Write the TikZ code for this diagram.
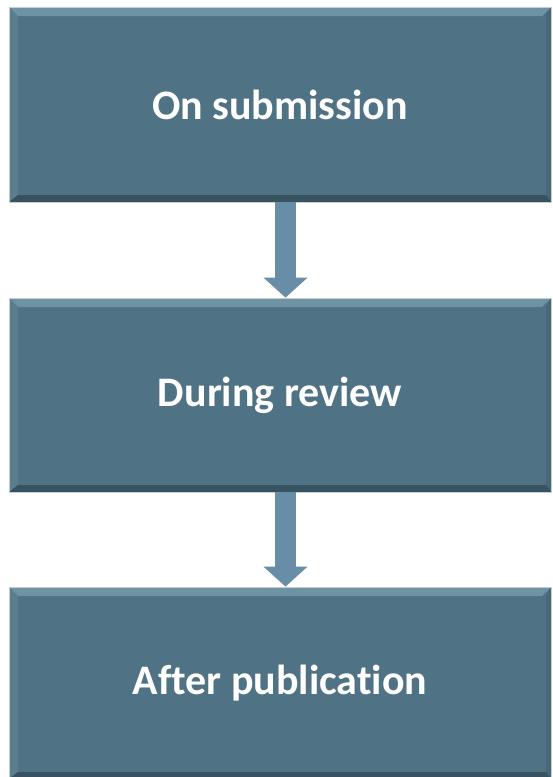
\documentclass[tikz,border=0pt]{standalone}
\usepackage{fontspec}
\setmainfont[Ligatures=NoCommon]{Carlito}
\usetikzlibrary{calc,arrows.meta}
\definecolor{boxfill}{RGB}{79,114,132}
\definecolor{bevtop}{RGB}{110,148,164}
\definecolor{bevleft}{RGB}{90,126,142}
\definecolor{bevright}{RGB}{72,104,120}
\definecolor{bevbot}{RGB}{55,82,96}
\definecolor{edgecol}{RGB}{196,206,212}
\definecolor{arrowcol}{RGB}{104,141,166}
\tikzset{
  stagebox/.style={rectangle, fill=boxfill, draw=edgecol, line width=0.8pt,
    minimum width=542pt, inner sep=0pt, text=white,
    font=\fontsize{42}{50}\selectfont\bfseries,
    path picture={
      \coordinate (pnw) at (path picture bounding box.north west);
      \coordinate (pne) at (path picture bounding box.north east);
      \coordinate (psw) at (path picture bounding box.south west);
      \coordinate (pse) at (path picture bounding box.south east);
      \fill[bevtop] (pnw) -- (pne) -- ($(pne)+(-9,9)$) -- ($(pnw)+(9,9)$) -- cycle;
      \fill[bevleft] (pnw) -- ($(pnw)+(9,9)$) -- ($(psw)+(9,-7)$) -- (psw) -- cycle;
      \fill[bevright] (pne) -- ($(pne)+(-5,9)$) -- ($(pse)+(-5,-7)$) -- (pse) -- cycle;
      \fill[bevbot] (psw) -- ($(psw)+(9,-7)$) -- ($(pse)+(-5,-7)$) -- (pse) -- cycle;
    }},
  flowarrow/.style={draw=arrowcol, line width=21pt,
    -{Triangle[width=43pt,length=20pt]}},
}
\begin{document}
\begin{tikzpicture}[x=1pt, y=-1pt]
\useasboundingbox (0,0) rectangle (552,777);
\fill[white] (0,0) rectangle (552,777);
\node[stagebox, minimum height=195pt] (b1) at (280,104.5) {\raisebox{-2pt}{On submission}};
\node[stagebox, minimum height=194pt] (b2) at (280,395) {\raisebox{-2pt}{During review}};
\node[stagebox, minimum height=192pt] (b3) at (280,683) {\raisebox{-2pt}{After publication}};
\coordinate (ax) at (285.5,0);
\draw[flowarrow] (b1.south -| ax) -- (b2.north -| ax);
\draw[flowarrow] (b2.south -| ax) -- (b3.north -| ax);
\end{tikzpicture}
\end{document}
